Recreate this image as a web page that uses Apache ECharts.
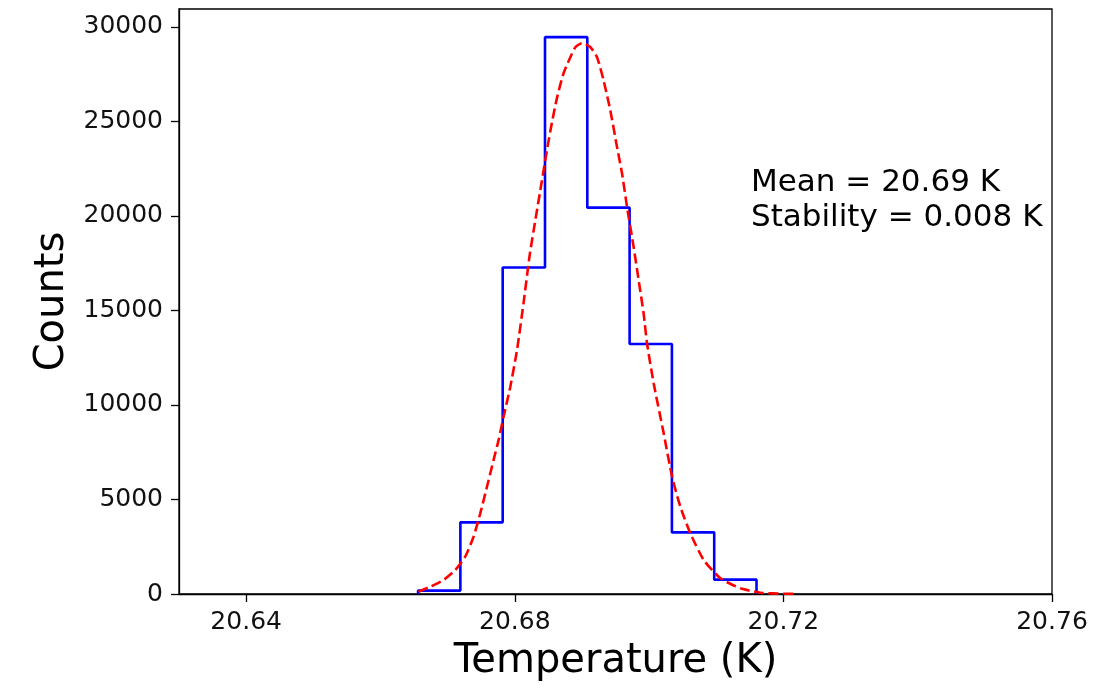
<!DOCTYPE html>
<html>
<head>
<meta charset="utf-8">
<script src="https://cdn.jsdelivr.net/npm/echarts@6/dist/echarts.min.js"></script>
<style>
html,body{margin:0;padding:0;background:#fff;}
#chart{width:1113px;height:692px;}
</style>
</head>
<body>
<div id="chart"></div>
<script>
// Histogram bin edges (K) and counts
const binEdges = [20.6656, 20.6719, 20.6782, 20.6845, 20.6908, 20.6971, 20.7034, 20.7097, 20.7160];
const binCounts = [180, 3790, 17270, 29460, 20440, 13230, 3260, 760];

// Gaussian fit curve
const fitT = [20.66566, 20.66741, 20.66939, 20.67113, 20.67262, 20.67386, 20.67486, 20.67586, 20.67684, 20.67759,
  20.67833, 20.67933, 20.68033, 20.68131, 20.68221, 20.68306, 20.6838, 20.6848, 20.68554, 20.68629, 20.68727,
  20.6890, 20.69001, 20.6912, 20.69225, 20.69323, 20.69423, 20.69523, 20.69598, 20.69672, 20.6977, 20.69845,
  20.69919, 20.6997, 20.70069, 20.70218, 20.70343, 20.70466, 20.70615, 20.70814, 20.71063, 20.71361, 20.71659,
  20.72006, 20.72206];
const fitCounts = [122, 386, 740, 1268, 1971, 3028, 4265, 5671, 7082, 8140,
  9371, 10957, 12896, 15400, 17900, 19767, 21353, 23500, 24950, 26250, 27550,
  28920, 29140, 28950, 28398, 27167, 25581, 23642, 22236, 20470, 18356, 16596,
  14836, 13250, 11136, 8494, 6200, 4614, 3208, 1797, 830, 301, 69,
  10, 3];

const xTickLabels = [20.64, 20.68, 20.72, 20.76];
const yTickLabels = [0, 5000, 10000, 15000, 20000, 25000, 30000];

const annotation = ['Mean = 20.69 K', 'Stability = 0.008 K'];

// Build step outline of histogram
const histOutline = [[binEdges[0], 0]];
for (let i = 0; i < binCounts.length; i++) {
  histOutline.push([binEdges[i], binCounts[i]]);
  histOutline.push([binEdges[i + 1], binCounts[i]]);
}
histOutline.push([binEdges[binEdges.length - 1], 0]);

const fitData = fitT.map((t, i) => [t, fitCounts[i]]);

const FONT = 'DejaVu Sans';
const chart = echarts.init(document.getElementById('chart'), null, {renderer: 'canvas'});
chart.setOption({
  animation: false,
  backgroundColor: '#ffffff',
  grid: {
    left: 179, right: 61, top: 9, bottom: 98,
    show: true, borderColor: '#000', borderWidth: 1.3, backgroundColor: 'transparent'
  },
  xAxis: {
    type: 'value',
    min: 20.63, max: 20.76,
    name: 'Temperature (K)',
    nameLocation: 'middle',
    nameGap: 48,
    nameTextStyle: {fontFamily: FONT, fontSize: 40, color: '#000'},
    axisLine: {show: true, onZero: false, lineStyle: {color: '#000', width: 1.3}},
    axisTick: {show: true, inside: false, length: 8, lineStyle: {color: '#000', width: 1.3}, customValues: xTickLabels},
    axisLabel: {
      show: true, margin: 16, fontFamily: FONT, fontSize: 25, color: '#111',
      customValues: xTickLabels,
      formatter: v => Number(v).toFixed(2)
    },
    splitLine: {show: false}
  },
  yAxis: {
    type: 'value',
    min: 0, max: 30950,
    name: 'Counts',
    nameLocation: 'middle',
    nameGap: 100,
    nameTextStyle: {fontFamily: FONT, fontSize: 40, color: '#000'},
    axisLine: {show: true, lineStyle: {color: '#000', width: 1.3}},
    axisTick: {show: true, inside: false, length: 8, lineStyle: {color: '#000', width: 1.3}, customValues: yTickLabels},
    axisLabel: {
      show: true, margin: 16, fontFamily: FONT, fontSize: 25, color: '#111',
      customValues: yTickLabels,
      formatter: v => String(v)
    },
    splitLine: {show: false}
  },
  graphic: [{
    type: 'text',
    left: 751,
    top: 165,
    silent: true,
    style: {
      text: annotation.join('\n'),
      font: '31px "' + FONT + '"',
      lineHeight: 35,
      fill: '#000'
    }
  }],
  series: [
    {
      type: 'line',
      data: histOutline,
      showSymbol: false,
      symbol: 'none',
      lineStyle: {color: '#0000ff', width: 2.6},
      z: 2
    },
    {
      type: 'line',
      data: fitData,
      showSymbol: false,
      symbol: 'none',
      smooth: 0.2,
      lineStyle: {color: '#ff0000', width: 2.6, type: [10, 4.5]},
      z: 3
    }
  ]
});
</script>
</body>
</html>
